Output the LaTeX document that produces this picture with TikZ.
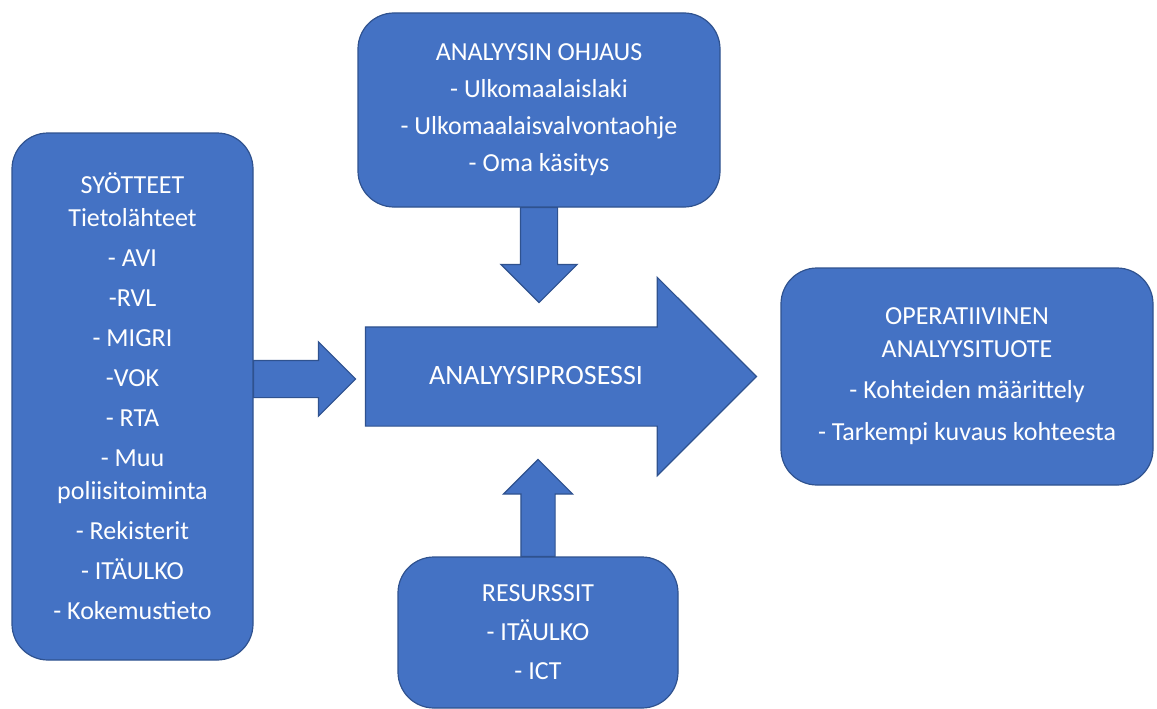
\documentclass[tikz,border=0pt]{standalone}
\usepackage{fontspec}
\setmainfont{Carlito}
\usetikzlibrary{shapes.arrows}
\definecolor{boxblue}{HTML}{4472C4}
\definecolor{boxline}{HTML}{2F528F}
\tikzset{
  infobox/.style={draw=boxline, fill=boxblue, line width=1.2pt, rounded corners=36pt,
    text=white, align=center, font=\fontsize{26}{33}\selectfont, inner sep=0pt},
  blockarrow/.style={single arrow, draw=boxline, fill=boxblue, line width=1.2pt,
    single arrow tip angle=90, outer sep=0pt},
  arrowtext/.style={text=white, font=\fontsize{28}{33}\selectfont, inner sep=0pt}
}
\begin{document}
\begin{tikzpicture}[x=1pt,y=-1pt]
  \useasboundingbox (0,0) rectangle (1157,709);
  % the boxes
  \node[infobox, minimum width=241pt, minimum height=527pt] (syotteet) at (132.5,396.5)
    {SYÖTTEET\\Tietolähteet\\[7pt]- AVI\\[7pt]-RVL\\[7pt]- MIGRI\\[7pt]-VOK\\[7pt]- RTA\\[7pt]- Muu\\poliisitoiminta\\[7pt]- Rekisterit\\[7pt]- ITÄULKO\\[7pt]- Kokemustieto};
  \node[infobox, minimum width=362pt, minimum height=194pt] (ohjaus) at (539,110)
    {ANALYYSIN OHJAUS\\[4pt]- Ulkomaalaislaki\\[4pt]- Ulkomaalaisvalvontaohje\\[4pt]- Oma käsitys};
  \node[infobox, minimum width=372pt, minimum height=217pt] (tuote) at (967,376.5)
    {OPERATIIVINEN\\ANALYYSITUOTE\\[8pt]- Kohteiden määrittely\\[9pt]- Tarkempi kuvaus kohteesta};
  \node[infobox, minimum width=280pt, minimum height=151pt] (resurssit) at (538,632.5)
    {RESURSSIT\\[6pt]- ITÄULKO\\[6pt]- ICT};
  % the arrows
  \node[blockarrow, inner sep=49pt, single arrow head extend=49.5pt, minimum height=391pt,
    anchor=tip] (prosessi) at ([xshift=-24pt]tuote.west) {};
  \node[arrowtext] (prosessiteksti) at (536,376) {ANALYYSIPROSESSI};
  \node[blockarrow, inner sep=18pt, single arrow head extend=18.5pt, minimum height=102pt,
    anchor=tail] (syottonuoli) at ([yshift=17.5pt]syotteet.east) {};
  \node[blockarrow, inner sep=18pt, single arrow head extend=19.5pt, minimum height=95pt,
    rotate=-90, anchor=tail] (ohjausnuoli) at (ohjaus.south) {};
  \node[blockarrow, inner sep=16.5pt, single arrow head extend=17.5pt, minimum height=97pt,
    rotate=90, anchor=tail] (resurssinuoli) at (resurssit.north) {};
\end{tikzpicture}
\end{document}
